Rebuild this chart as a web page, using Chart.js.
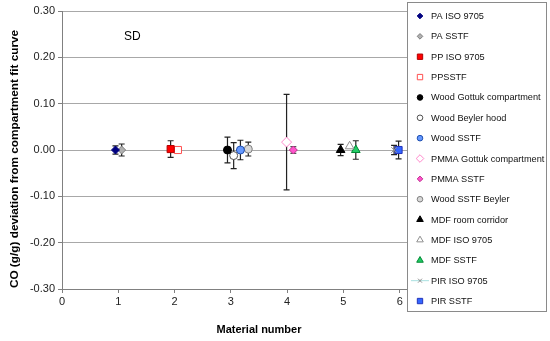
<!DOCTYPE html>
<html><head><meta charset="utf-8">
<script src="https://cdn.jsdelivr.net/npm/chart.js@4/dist/chart.umd.min.js"></script>
<style>html,body{margin:0;padding:0;background:#fff}#wrap{position:relative;width:550px;height:341px}</style>
</head><body><div id="wrap"><canvas id="c" width="550" height="341"></canvas></div>
<script>
const seriesNames = ["PA ISO 9705","PA SSTF","PP ISO 9705","PPSSTF","Wood Gottuk compartment","Wood Beyler hood","Wood SSTF","PMMA Gottuk compartment","PMMA SSTF","Wood SSTF Beyler","MDF room corridor","MDF ISO 9705","MDF SSTF","PIR ISO 9705","PIR SSTF"];
const xValues = [0.95,1.06,1.93,2.06,2.94,3.05,3.17,3.99,4.11,3.31,4.95,5.11,5.22,5.90,5.98];
const yValues = [0.000,0.000,0.002,0.000,0.000,-0.012,0.000,0.017,0.000,0.002,0.000,0.008,0.000,0.000,0.000];
const errValues = [0.009,0.013,0.018,0.005,0.028,0.028,0.021,0.103,0.007,0.015,0.012,0.000,0.020,0.010,0.019];
const yTicks = [-0.30,-0.20,-0.10,0.00,0.10,0.20,0.30];
const annotationText = "SD";
const yTitle = "CO (g/g) deviation from compartment fit curve";
const xTitle = "Material number";

const styles = [
 {s:'rectRot', bg:'#000080', bd:'#000080', r:4},
 {s:'rectRot', bg:'#b0b0b0', bd:'#808080', r:4},
 {s:'rect', bg:'#ff0000', bd:'#b00000', r:5},
 {s:'rect', bg:'#ffffff', bd:'#ff5050', r:5},
 {s:'circle', bg:'#000000', bd:'#000000', r:4},
 {s:'circle', bg:'#ffffff', bd:'#505050', r:4},
 {s:'circle', bg:'#6699ff', bd:'#2050b0', r:4},
 {s:'rectRot', bg:'#ffffff', bd:'#ff88cc', r:5},
 {s:'rectRot', bg:'#ff55cc', bd:'#c03090', r:4},
 {s:'circle', bg:'#d8d8d8', bd:'#808080', r:4},
 {s:'triangle', bg:'#000000', bd:'#000000', r:5},
 {s:'triangle', bg:'#ffffff', bd:'#909090', r:5},
 {s:'triangle', bg:'#22cc66', bd:'#008833', r:5},
 {s:'crossRot', bg:'#909090', bd:'#909090', r:4},
 {s:'rect', bg:'#3366ff', bd:'#2233bb', r:5}
];

const datasets = seriesNames.map((n,i)=>({
  label:n,
  data:[{x:xValues[i], y:yValues[i]}],
  pointStyle:styles[i].s, backgroundColor:styles[i].bg, borderColor:styles[i].bd,
  pointRadius:styles[i].r, pointBorderWidth:1, showLine:false
}));

const errorBars = {
  id:'errorBars',
  beforeDatasetsDraw(chart){
    const ctx=chart.ctx, xs=chart.scales.x, ys=chart.scales.y;
    ctx.save(); ctx.strokeStyle='#222'; ctx.lineWidth=1.2;
    chart.data.datasets.forEach((d,i)=>{
      const e=errValues[i]; if(!e) return;
      const px=xs.getPixelForValue(xValues[i]);
      const t=ys.getPixelForValue(yValues[i]+e), b=ys.getPixelForValue(yValues[i]-e);
      ctx.beginPath();
      ctx.moveTo(px,t); ctx.lineTo(px,b);
      ctx.moveTo(px-3,t); ctx.lineTo(px+3,t);
      ctx.moveTo(px-3,b); ctx.lineTo(px+3,b);
      ctx.stroke();
    });
    ctx.restore();
  },
  afterDraw(chart){
    const ctx=chart.ctx, xs=chart.scales.x, ys=chart.scales.y;
    ctx.save();
    ctx.font='12px "Liberation Sans", Arial, sans-serif'; ctx.fillStyle='#000';
    ctx.textBaseline='middle'; ctx.textAlign='left';
    ctx.fillText(annotationText, xs.getPixelForValue(1.1), ys.getPixelForValue(0.245));
    // y title
    ctx.save();
    ctx.translate(15, (chart.chartArea.top+chart.chartArea.bottom)/2 + 9);
    ctx.rotate(-Math.PI/2);
    ctx.font='bold 11.8px "Liberation Sans", Arial, sans-serif';
    ctx.textAlign='center'; ctx.textBaseline='middle'; ctx.fillStyle='#000';
    ctx.fillText(yTitle,0,0);
    ctx.restore();
    // legend box
    ctx.fillStyle='#fff'; ctx.fillRect(407.5,2.5,139,309);
    ctx.strokeStyle='#8a8a8a'; ctx.lineWidth=1; ctx.strokeRect(407.5,2.5,139,309);
    ctx.font='9.2px "Liberation Sans", Arial, sans-serif';
    ctx.textAlign='left';
    seriesNames.forEach((n,i)=>{
      const y=16+i*20.36;
      if(styles[i].s==='crossRot'){
        ctx.save(); ctx.strokeStyle='#a8e0e0'; ctx.lineWidth=1;
        ctx.beginPath(); ctx.moveTo(411,y); ctx.lineTo(429,y); ctx.stroke(); ctx.restore();
      }
      ctx.save();
      ctx.fillStyle=styles[i].bg; ctx.strokeStyle=styles[i].bd; ctx.lineWidth=1;
      Chart.helpers.drawPoint(ctx,{pointStyle:styles[i].s, radius:styles[i].r-1.2, rotation:0, borderWidth:1},420,y);
      ctx.restore();
      ctx.fillStyle='#111'; ctx.textBaseline='middle';
      ctx.fillText(n,431,y+0.5);
    });
    ctx.restore();
  }
};

new Chart(document.getElementById('c'),{
  type:'scatter',
  data:{datasets},
  plugins:[errorBars],
  options:{
    responsive:false, animation:false,
    layout:{padding:{left:0,right:94,top:11,bottom:0}},
    plugins:{legend:{display:false}, tooltip:{enabled:false}},
    scales:{
      x:{type:'linear', min:0, max:7,
        ticks:{stepSize:1, color:'#222', font:{family:'"Liberation Sans", Arial', size:11}, padding:2},
        grid:{drawOnChartArea:false, drawTicks:true, tickLength:4, color:'#808080'},
        border:{color:'#808080'},
        title:{display:true, text:xTitle, color:'#000', font:{family:'"Liberation Sans", Arial', size:11, weight:'bold'}, padding:{top:10}},
        afterFit(s){ s.height=52; }
      },
      y:{type:'linear', min:-0.3, max:0.3,
        afterBuildTicks(s){ s.ticks = yTicks.map(v=>({value:v})); },
        ticks:{color:'#222', font:{family:'"Liberation Sans", Arial', size:11}, padding:3, callback:v=>Number(v).toFixed(2)},
        grid:{color:'#a8a8a8', tickLength:4, tickColor:'#808080'},
        border:{color:'#808080'},
        afterFit(s){ s.width=62; }
      }
    }
  }
});
</script></body></html>
